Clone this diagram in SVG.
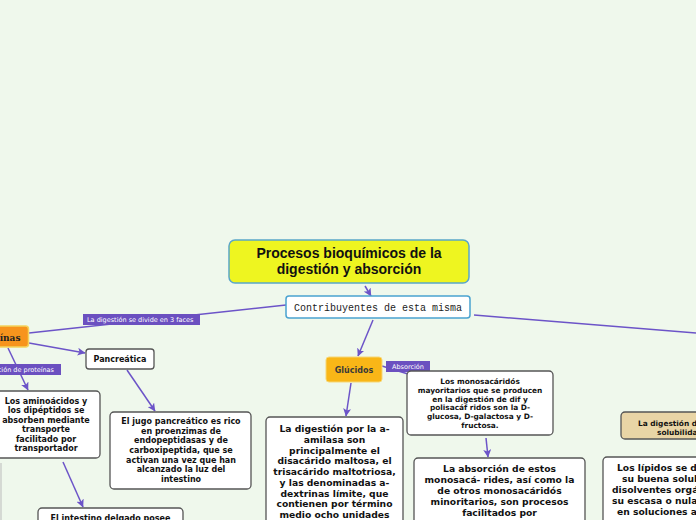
<svg xmlns="http://www.w3.org/2000/svg" width="696" height="520" viewBox="0 0 696 520">
<defs>
<style>
.bg{fill:#eff8ec}
.box{fill:#fff;stroke:#555;stroke-width:1.3}
.conn{stroke:#6c54c8;stroke-width:1.5;fill:none}
.lbl{fill:#6b50c0}
.lt{font-family:"DejaVu Sans",Verdana,sans-serif;font-size:6.5px;fill:#fff}
.t8{font-family:"DejaVu Sans",Verdana,sans-serif;font-weight:bold;font-size:8px;fill:#111;text-anchor:middle}
.t9{font-family:"DejaVu Sans",Verdana,sans-serif;font-weight:bold;font-size:9.2px;fill:#111;text-anchor:middle}
.t7{font-family:"DejaVu Sans",Verdana,sans-serif;font-weight:bold;font-size:7.4px;fill:#111;text-anchor:middle}
.s{text-anchor:start}
</style>
<marker id="ah" viewBox="0 0 8 8" refX="7.5" refY="4" markerWidth="8" markerHeight="8" markerUnits="userSpaceOnUse" orient="auto">
<path d="M0,0 L8,4 L0,8 L2,4 z" fill="#6c54c8"/>
</marker>
</defs>
<rect class="bg" x="0" y="0" width="696" height="520"/>

<g id="connectors">
<line class="conn" x1="365" y1="286" x2="371" y2="296" marker-end="url(#ah)"/>
<line class="conn" x1="286" y1="305" x2="29" y2="333"/>
<line class="conn" x1="474" y1="315" x2="696" y2="333"/>
<line class="conn" x1="373" y1="320" x2="358" y2="356" marker-end="url(#ah)"/>
<line class="conn" x1="382" y1="366" x2="408" y2="374"/>
<line class="conn" x1="351" y1="383" x2="346" y2="416" marker-end="url(#ah)"/>
<line class="conn" x1="486" y1="438" x2="488" y2="457" marker-end="url(#ah)"/>
<line class="conn" x1="29" y1="343" x2="85" y2="353" marker-end="url(#ah)"/>
<line class="conn" x1="8" y1="348" x2="28" y2="390" marker-end="url(#ah)"/>
<line class="conn" x1="127" y1="370" x2="155" y2="411" marker-end="url(#ah)"/>
<line class="conn" x1="63" y1="462" x2="83" y2="507" marker-end="url(#ah)"/>
<line x1="1" y1="463" x2="1" y2="520" stroke="#bbb" stroke-width="1"/>
</g>

<g id="label-fases">
<rect class="lbl" x="83" y="314" width="117" height="11"/>
<text class="lt" x="87" y="322">La digestión se divide en 3 faces</text>
</g>
<g id="label-absorcion">
<rect class="lbl" x="386" y="361" width="44" height="11"/>
<text class="lt" x="392" y="369">Absorción</text>
</g>
<g id="label-proteinas">
<rect class="lbl" x="-30" y="364" width="91" height="11"/>
<text class="lt" x="54" y="372" text-anchor="end">Absorción de proteínas</text>
</g>

<g id="title">
<rect x="229" y="240" width="240" height="43" rx="6" fill="#eef520" stroke="#5aa6c8" stroke-width="1.5"/>
<text x="349" y="258" text-anchor="middle" font-family="Liberation Sans,Arial,sans-serif" font-weight="bold" font-size="14" fill="#111">Procesos bioquímicos de la</text>
<text x="349" y="273.5" text-anchor="middle" font-family="Liberation Sans,Arial,sans-serif" font-weight="bold" font-size="14" fill="#111">digestión y absorción</text>
</g>

<g id="contribuyentes">
<rect x="286" y="296" width="184" height="22" rx="3" fill="#fff" stroke="#4aa3d0" stroke-width="1.5"/>
<text x="378" y="311" text-anchor="middle" font-family="Liberation Mono,Courier New,monospace" font-size="10" fill="#222">Contribuyentes de esta misma</text>
</g>

<g id="proteinas">
<rect x="-45" y="326" width="73.5" height="21" rx="3" fill="#f7941d" stroke="#f4d35e" stroke-width="1.5"/>
<text x="20.5" y="341" text-anchor="end" font-family="DejaVu Serif,serif" font-weight="bold" font-size="9" fill="#222">Proteínas</text>
</g>

<g id="pancreatica">
<rect class="box" x="86" y="349" width="68" height="20" rx="3"/>
<text class="t8" x="120" y="362">Pancreática</text>
</g>

<g id="jugo">
<rect class="box" x="110" y="412" width="141" height="77" rx="4"/>
<text class="t8" x="181" y="424">El jugo pancreático es rico</text>
<text class="t8" x="181" y="433.7">en proenzimas de</text>
<text class="t8" x="181" y="443.3">endopeptidasas y de</text>
<text class="t8" x="181" y="453">carboxipeptida, que se</text>
<text class="t8" x="181" y="462.7">activan una vez que han</text>
<text class="t8" x="181" y="472.3">alcanzado la luz del</text>
<text class="t8" x="181" y="482">intestino</text>
</g>

<g id="aminoacidos">
<rect class="box" x="-8" y="391" width="108" height="67" rx="4"/>
<text class="t8" x="46" y="404">Los aminoácidos y</text>
<text class="t8" x="46" y="413.4">los dipéptidos se</text>
<text class="t8" x="46" y="422.8">absorben mediante</text>
<text class="t8" x="46" y="432.2">transporte</text>
<text class="t8" x="46" y="441.6">facilitado por</text>
<text class="t8" x="46" y="451">transportador</text>
</g>

<g id="intestino">
<rect class="box" x="38" y="508" width="145" height="30" rx="4"/>
<text class="t8" x="110.5" y="521">El intestino delgado posee</text>
</g>

<g id="glucidos">
<rect x="326" y="357" width="56" height="25" rx="3" fill="#f9b617" stroke="#f6d776" stroke-width="1"/>
<text x="354" y="373" text-anchor="middle" font-family="DejaVu Sans,Verdana,sans-serif" font-weight="bold" font-size="8" fill="#3a3a3a">Glúcidos</text>
</g>

<g id="digestion-amilasa">
<rect class="box" x="266" y="417" width="137" height="120" rx="4"/>
<text class="t9" x="334.5" y="432">La digestión por la a-</text>
<text class="t9" x="334.5" y="442.75">amilasa son</text>
<text class="t9" x="334.5" y="453.5">principalmente el</text>
<text class="t9" x="334.5" y="464.25">disacárido maltosa, el</text>
<text class="t9" x="334.5" y="475">trisacárido maltotriosa,</text>
<text class="t9" x="334.5" y="485.75">y las denominadas a-</text>
<text class="t9" x="334.5" y="496.5">dextrinas límite, que</text>
<text class="t9" x="334.5" y="507.25">contienen por término</text>
<text class="t9" x="334.5" y="518">medio ocho unidades</text>
</g>

<g id="monosacaridos">
<rect class="box" x="407" y="371" width="146" height="64" rx="4" stroke="#333"/>
<text class="t7" x="480" y="384">Los monosacáridós</text>
<text class="t7" x="480" y="392.8">mayoritarios que se producen</text>
<text class="t7" x="480" y="401.6">en la digestión de dif y</text>
<text class="t7" x="480" y="410.4">polisacáf ridos son la D-</text>
<text class="t7" x="480" y="419.2">glucosa, D-galactosa y D-</text>
<text class="t7" x="480" y="428">fructosa.</text>
</g>

<g id="absorcion-mono">
<rect class="box" x="414" y="458" width="171" height="80" rx="4" stroke="#333"/>
<text class="t9" x="499.5" y="472">La absorción de estos</text>
<text class="t9" x="499.5" y="483">monosacá- rides, así como la</text>
<text class="t9" x="499.5" y="494">de otros monosacáridós</text>
<text class="t9" x="499.5" y="505">minoritarios, son procesos</text>
<text class="t9" x="499.5" y="516">facilitados por</text>
</g>

<g id="digestion-lipidos">
<rect x="621" y="412" width="110" height="27" rx="4" fill="#e9d5a6" stroke="#555" stroke-width="1.3"/>
<text class="t7 s" x="638" y="426">La digestión de los lípidos</text>
<text class="t7 s" x="657" y="435">solubilidad</text>
</g>

<g id="lipidos">
<rect class="box" x="603" y="457" width="160" height="80" rx="4"/>
<text class="t9 s" x="617" y="471">Los lípidos se definen por</text>
<text class="t9 s" x="622" y="482">su buena solubilidad en</text>
<text class="t9 s" x="612" y="493">disolventes orgánicos y</text>
<text class="t9 s" x="612" y="504">su escasa o nula solubilidad</text>
<text class="t9 s" x="617" y="515">en soluciones acuosas</text>
</g>
</svg>
